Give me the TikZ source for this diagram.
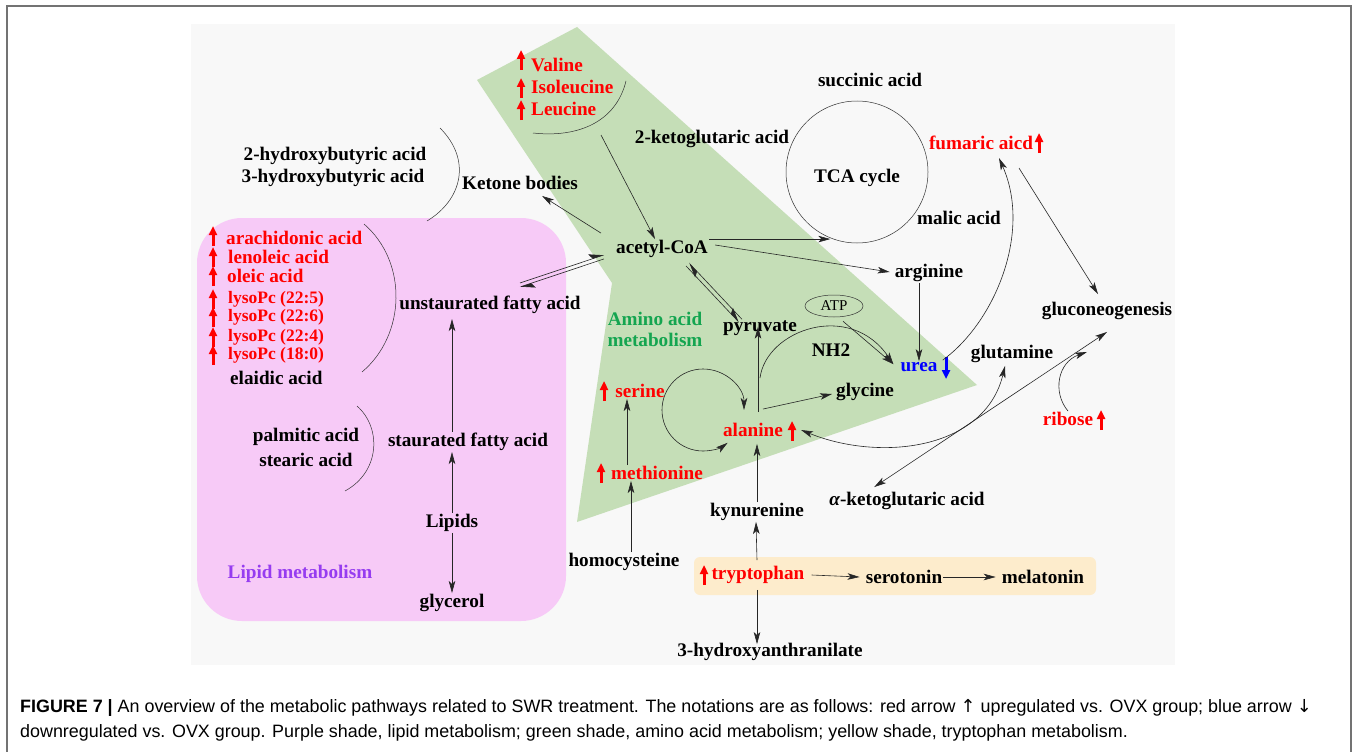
\documentclass[tikz,border=0pt]{standalone}
\usepackage{fontspec}
\setmainfont{Liberation Serif}
\newfontfamily\capfont{Liberation Sans}
\newfontfamily\symfont{DejaVu Sans}
\usepackage{tikz}
\usetikzlibrary{arrows.meta, shapes.geometric}
\definecolor{lipidpink}{RGB}{247,202,247}
\definecolor{aminogreen}{RGB}{197,222,183}
\definecolor{trpyellow}{RGB}{253,236,204}
\definecolor{panelgray}{RGB}{248,248,248}
\definecolor{upred}{RGB}{255,0,0}
\definecolor{downblue}{RGB}{0,0,255}
\definecolor{lipidpurple}{RGB}{150,60,240}
\definecolor{aminotext}{RGB}{20,165,80}

\begin{document}
\begin{tikzpicture}[
    x=1pt, y=-1pt,
    met/.style={font=\fontsize{19.2}{21}\selectfont\bfseries, inner sep=1pt},
    upmet/.style={met, text=upred},
    lyso/.style={font=\fontsize{17.5}{19}\selectfont\bfseries, text=upred, inner sep=1pt},
    arrow/.style={-{Stealth[length=12pt,width=6.5pt,inset=3pt]}, line width=0.6pt, draw=black!85},
    dblarrow/.style={{Stealth[length=12pt,width=6.5pt,inset=3pt]}-{Stealth[length=12pt,width=6.5pt,inset=3pt]}, line width=0.6pt, draw=black!85},
    harp/.style={-{Stealth[harpoon,length=14pt,width=11pt,inset=3pt]}, line width=0.6pt, draw=black!85},
    bracket/.style={line width=0.5pt, draw=black!80},
    uparr/.style={upred, line width=3pt, -{Triangle[length=9pt,width=8pt]}},
    downarr/.style={downblue, line width=3pt, -{Triangle[length=9pt,width=8pt]}}
]
    \useasboundingbox (0,0) rectangle (1358,752);
    \draw[black!55, line width=1.5pt] (7,752) -- (7,6) -- (1351,6) -- (1351,752);

    % shaded areas
    \fill[panelgray] (191,24) rectangle (1175,665);
    \fill[lipidpink, rounded corners=45pt] (197,218) rectangle (566,621);
    \fill[aminogreen] (477,80) -- (577,27) -- (977,385) -- (577,522) -- (612,283) -- cycle;
    \fill[trpyellow, rounded corners=6pt] (694,557) rectangle (1096,595);

    % lipid metabolism
    \node[upmet, anchor=west] (ara) at (225,238) {arachidonic acid};
    \node[upmet, anchor=west] (lno) at (227,257) {lenoleic acid};
    \node[upmet, anchor=west] (ole) at (226,276) {oleic acid};
    \node[lyso, anchor=west] (ly1) at (227,299) {lysoPc (22:5)};
    \node[lyso, anchor=west] (ly2) at (227,317) {lysoPc (22:6)};
    \node[lyso, anchor=west] (ly3) at (227,337) {lysoPc (22:4)};
    \node[lyso, anchor=west] (ly4) at (227,355) {lysoPc (18:0)};
    \node[met, anchor=west] (ela) at (229,378) {elaidic acid};
    \node[met] (ufa) at (490,305) {unstaurated fatty acid};
    \node[met] (palm) at (306,437) {palmitic acid};
    \node[met] (stear) at (306,460) {stearic acid};
    \node[met] (sfa) at (468,442) {staurated fatty acid};
    \node[met] (lip) at (452,523) {Lipids};
    \node[met] (glyc) at (452,603) {glycerol};
    \node[met, text=lipidpurple] (lipname) at (300,574) {Lipid metabolism};

    % ketone bodies and TCA
    \node[met] (hb2) at (335,156) {2-hydroxybutyric acid};
    \node[met] (hb3) at (333,178) {3-hydroxybutyric acid};
    \node[met] (ketone) at (520,183) {Ketone bodies};
    \node[upmet, anchor=west] (val) at (530,65) {Valine};
    \node[upmet, anchor=west] (ile) at (530,87) {Isoleucine};
    \node[upmet, anchor=west] (leu) at (530,109) {Leucine};
    \node[met] (akg2) at (712,139) {2-ketoglutaric acid};
    \node[met] (succ) at (870,80) {succinic acid};
    \node[circle, draw=black!80, line width=0.5pt, minimum size=142pt] (tca) at (857,172) {};
    \node[met] (tcaname) at (857,178) {TCA cycle};
    \node[upmet] (fum) at (981,143) {fumaric aicd};
    \node[met] (mal) at (959,218) {malic acid};
    \node[met] (acoa) at (662,249) {acetyl-CoA};
    \node[met] (arg) at (929,273) {arginine};
    \node[ellipse, draw=black!80, line width=0.5pt, font=\fontsize{15}{17}\selectfont, minimum width=58pt, minimum height=22pt, inner sep=0pt] (atp) at (834,306) {ATP};
    \node[met] (gluco) at (1107,311) {gluconeogenesis};

    % amino acid metabolism
    \node[met, text=aminotext, align=center] (aminame) at (655,329) {Amino acid\\metabolism};
    \node[met] (pyr) at (760,328) {pyruvate};
    \node[met] (nh) at (831,350) {NH2};
    \node[met, text=downblue] (urea) at (919,367) {urea};
    \node[met] (gln) at (1012,354) {glutamine};
    \node[upmet] (ser) at (640,391) {serine};
    \node[met] (gly) at (865,392) {glycine};
    \node[upmet] (ala) at (753,430) {alanine};
    \node[upmet] (rib) at (1068,419) {ribose};
    \node[upmet] (met) at (657,473) {methionine};
    \node[met] (akga) at (907,501) {{\itshape α}-ketoglutaric acid};
    \node[met] (kyn) at (757,512) {kynurenine};
    \node[met] (hcy) at (624,562) {homocysteine};

    % tryptophan metabolism
    \node[upmet] (trp) at (758,575) {tryptophan};
    \node[met] (sero) at (904,577) {serotonin};
    \node[met] (mela) at (1043,577) {melatonin};
    \node[met] (hyd) at (770,652) {3-hydroxyanthranilate};

    % up and down marks
    \foreach \x/\y in {521/60, 521/88, 521/110, 213/236, 213/257, 213/276, 213/299, 213/317, 213/337, 213/355,
        1039/143, 604/391, 792/431, 1101/420, 601/473, 704/575}
        \draw[uparr] (\x,\y+10) -- (\x,\y-10);
    \draw[downarr] (946,357) -- (946,379);

    % brackets
    \draw[bracket] (626,81) .. controls (616,122) and (578,138) .. (533,133);
    \draw[bracket] (440,128) .. controls (472,160) and (462,200) .. (427,221);
    \draw[bracket] (364,224) .. controls (408,262) and (406,335) .. (362,372);
    \draw[bracket] (357,406) .. controls (382,428) and (380,472) .. (345,491);
    \coordinate (bcaa) at (601,135);

    % connectors
    \draw[arrow] (bcaa) -- ([xshift=-7]acoa.north);
    \draw[arrow] ([xshift=-14,yshift=6]acoa.north west) -- ([xshift=-37,yshift=-5]ketone.south east);
    \draw[arrow] (acoa.north east) -- (acoa.north east -| tca.248);
    \draw[arrow] ([xshift=6,yshift=4]acoa.east) -- ([xshift=-4,yshift=1]arg.west);
    \draw[harp] ([xshift=30,yshift=12]ufa.north) -- ([xshift=-11,yshift=4]acoa.south west);
    \draw[harp] ([xshift=-11,yshift=0]acoa.south west) -- ([xshift=30,yshift=8]ufa.north);
    \draw[harp] ([xshift=24,yshift=-7]acoa.south) -- ([xshift=-21,yshift=-3]pyr.north);
    \draw[harp] ([xshift=-18,yshift=0]pyr.north) -- ([xshift=27,yshift=-4]acoa.south);
    \draw[arrow] ([xshift=-10]arg.south) -- (urea.north);
    \draw[arrow] ([xshift=9,yshift=-4]atp.south) -- ([xshift=-6,yshift=-3]urea.north west);
    \coordinate (nhs) at (760,378);
    \draw[arrow] (nhs) .. controls (766,330) and (850,300) .. ([xshift=-6,yshift=-3]urea.north west);
    \draw[arrow] ([xshift=5,yshift=10]ala.north) -- ([xshift=5,yshift=10]ala.north |- pyr.south);
    \draw[arrow] ([xshift=10,yshift=13]ala.north) -- ([xshift=-3,yshift=-2]gly.west);
    \coordinate (loop) at (703,410);
    \draw[dblarrow] ([xshift=41]loop) arc[start angle=0, end angle=-307, radius=41];
    \draw[arrow] (kyn.north) -- ([yshift=-6]kyn.north |- ala.south);
    \draw[arrow] ([xshift=-1,yshift=5]trp.north) -- ([xshift=-1]kyn.south);
    \draw[arrow] ([xshift=-1,yshift=-5]trp.south) -- ([xshift=-1,yshift=-2]trp.south |- hyd.north);
    \draw[arrow] ([xshift=6]trp.east) -- ([xshift=-5]sero.west);
    \draw[arrow] (sero.east) -- ([xshift=-5]mela.west);
    \draw[arrow] ([xshift=7]hcy.north) -- ([xshift=7]hcy.north |- met.south);
    \draw[arrow] ([xshift=-30]met.north) -- ([xshift=-13]ser.south);
    \draw[arrow] (lip.north) -- (lip.north |- sfa.south);
    \draw[arrow] (lip.south) -- (glyc.north);
    \draw[arrow] (sfa.north -| lip.north) -- ([yshift=-4]ufa.south -| lip.north);
    \draw[arrow] ([xshift=4,yshift=1]urea.north east) .. controls (995,322) and (1032,232) .. ([xshift=18,yshift=-7]fum.south);
    \draw[arrow] ([xshift=38,yshift=-17]fum.south) -- ([xshift=-9,yshift=7]gluco.north);
    \draw[arrow] (rib.north) .. controls (1052,392) and (1058,362) .. ([xshift=-20,yshift=-31]gluco.south);
    \draw[dblarrow] ([xshift=46,yshift=4]akga.north west) -- ([yshift=-11]gluco.south);
    \draw[dblarrow] ([xshift=17]ala.east) .. controls (880,462) and (985,450) .. ([xshift=-7,yshift=-2]gln.south);

    % caption
    \node[anchor=west, font=\capfont\fontsize{17.9}{20}\selectfont, inner sep=0pt] (cap1) at (20,708)
        {\textbf{FIGURE 7 |} An overview of the metabolic pathways related to SWR treatment. The notations are as follows: red arrow {\symfont ↑} upregulated vs. OVX group; blue arrow {\symfont ↓}};
    \node[anchor=west, font=\capfont\fontsize{17.9}{20}\selectfont, inner sep=0pt] (cap2) at (20,733)
        {downregulated vs. OVX group. Purple shade, lipid metabolism; green shade, amino acid metabolism; yellow shade, tryptophan metabolism.};
\end{tikzpicture}
\end{document}
